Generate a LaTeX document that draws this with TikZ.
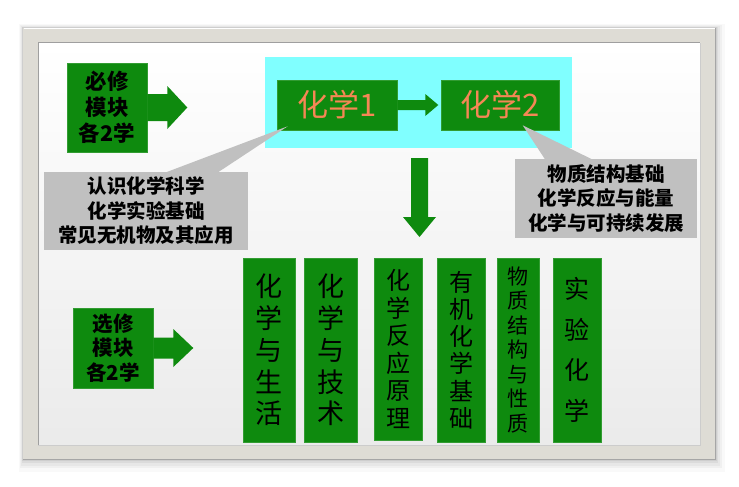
\documentclass[tikz,border=0pt]{standalone}
\usepackage{fontspec}
\setmainfont{Noto Sans CJK SC}
\usetikzlibrary{calc}
\definecolor{gboxc}{RGB}{14,138,14}
\definecolor{cyanbg}{RGB}{128,255,255}
\definecolor{callgray}{RGB}{192,192,192}
\definecolor{orangetxt}{RGB}{245,135,85}
\definecolor{framegray}{RGB}{222,220,213}
\tikzset{
  gbox/.style={fill=gboxc, draw=gboxc!85!white, line width=0.6pt, inner sep=0pt, align=center, text=black},
  callbox/.style={fill=callgray, inner sep=0pt, align=center, text=black,
    font=\fontsize{19.5}{24.5}\selectfont\bfseries},
  sidetxt/.style={font=\fontsize{21.5}{26}\selectfont\bfseries},
  chem/.style={font=\fontsize{31}{34}\selectfont, text=orangetxt},
}
\begin{document}
\begin{tikzpicture}[x=1pt,y=-1pt]
\useasboundingbox (0,0) rectangle (739,487);
% shadow of frame
\foreach \d/\o in {10/0.025,7/0.035,5/0.04,3/0.05,1.5/0.06}{
  \fill[black,opacity=\o] (23-\d*0.4,28-\d*0.4) rectangle (715+\d,459+\d*1.3);
}
% frame
\fill[framegray] (23,28) rectangle (715,459);
\draw[white,line width=0.8pt] (23.5,28.5) -- (714.5,28.5);
\draw[gray!70,line width=0.6pt] (715,28) -- (715,459) -- (23,459);
\shade[top color=white,bottom color=black!8] (38,43) rectangle (700,445);
\draw[gray!75,line width=1pt] (38,445) -- (38,43) -- (700,43);
\draw[gray!40,line width=0.8pt] (700,43) -- (700,445) -- (38,445);
% cyan area
\node[fill=cyanbg, minimum width=307pt, minimum height=91pt, inner sep=0pt] (cy) at (418.5,102.5) {};
% callouts
\node[callbox, minimum width=204pt, minimum height=78pt] (lc) at (146,211)
  {认识化学科学\\化学实验基础\\常见无机物及其应用};
\node[callbox, minimum width=182pt, minimum height=79pt] (rc) at (606,198.5)
  {物质结构基础\\化学反应与能量\\化学与可持续发展};
% green boxes top
\node[gbox, minimum width=120pt, minimum height=50pt] (c1) at (337,105) {};
\node[gbox, minimum width=118pt, minimum height=50pt] (c2) at (500,105) {};
\fill[callgray] ($(lc.north)+(20,0.5)$) -- ($(c1.south west)+(11,-4)$) -- ($(lc.north)+(72,0.5)$) -- cycle;
\fill[callgray] ($(rc.north)+(-61,0.5)$) -- ($(c2.south west)+(82,-5)$) -- ($(rc.north)+(-14,0.5)$) -- cycle;
\node[chem] at (c1) {化学1};
\node[chem] at (c2) {化学2};
% arrow c1 -> c2
\fill[gboxc] (c1.east) ++(0,-5) -- ++(28,0) -- ++(0,-6) -- ++(13,11) -- ++(-13,11) -- ++(0,-6) -- ++(-28,0) -- cycle;
% side boxes
\node[gbox, sidetxt, minimum width=80pt, minimum height=89pt] (bx1) at (107,107.5) {必修\\模块\\各2学};
\node[gbox, font=\fontsize{20.5}{24.5}\selectfont\bfseries, minimum width=80pt, minimum height=80pt] (bx2) at (113,348) {选修\\模块\\各2学};
\fill[gboxc] (bx1.east) ++(0,-13.5) -- ++(20,0) -- ++(0,-8) -- ++(20,21.5) -- ++(-20,21.5) -- ++(0,-8) -- ++(-20,0) -- cycle;
\fill[gboxc] (bx2.east) ++(0,-10.5) -- ++(20,0) -- ++(0,-8.5) -- ++(20,19) -- ++(-20,19) -- ++(0,-8.5) -- ++(-20,0) -- cycle;
% down arrow
\coordinate (da) at (419.5,158);
\fill[gboxc] (da) ++(-8.5,0) -- ++(17,0) -- ++(0,59) -- ++(8,0) -- ++(-16.5,20) -- ++(-16.5,-20) -- ++(8,0) -- cycle;
% columns
\node[gbox, minimum width=52pt, minimum height=184pt, font=\fontsize{27}{31.75}\selectfont] (k1) at (269,350) {化\\学\\与\\生\\活};
\node[gbox, minimum width=53pt, minimum height=184pt, font=\fontsize{27}{31.75}\selectfont] (k2) at (330.5,350) {化\\学\\与\\技\\术};
\node[gbox, minimum width=48pt, minimum height=182pt, font=\fontsize{24}{27.5}\selectfont] (k3) at (398,349) {化\\学\\反\\应\\原\\理};
\node[gbox, minimum width=48pt, minimum height=184pt, font=\fontsize{24}{27.2}\selectfont] (k4) at (461,350) {有\\机\\化\\学\\基\\础};
\node[gbox, minimum width=42pt, minimum height=184pt, font=\fontsize{21}{24.5}\selectfont] (k5) at (518,350) {物\\质\\结\\构\\与\\性\\质};
\node[gbox, minimum width=48pt, minimum height=184pt, font=\fontsize{25}{40.7}\selectfont] (k6) at (577,350) {实\\验\\化\\学};
\end{tikzpicture}
\end{document}
